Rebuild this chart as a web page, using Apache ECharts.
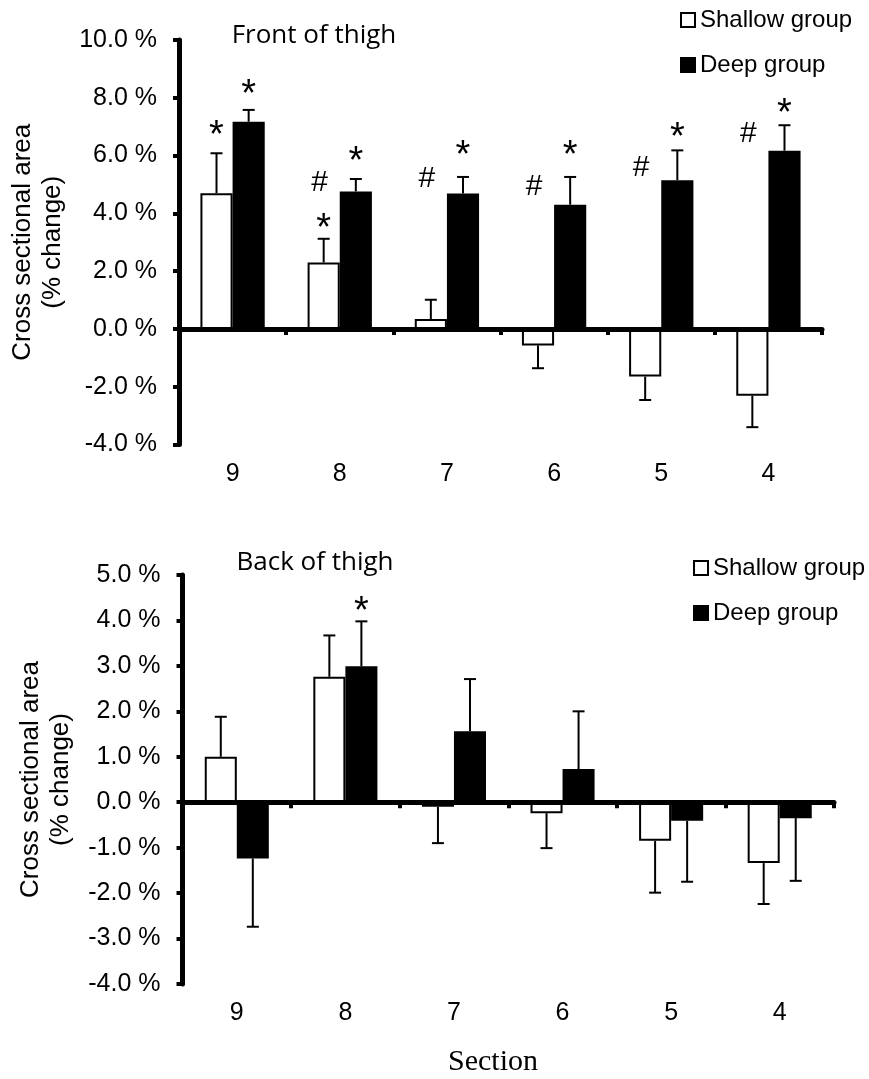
<!DOCTYPE html>
<html>
<head>
<meta charset="utf-8">
<title>Cross sectional area change by section</title>
<script src="https://cdn.jsdelivr.net/npm/echarts@6/dist/echarts.min.js"></script>
<style>
  html, body { margin: 0; padding: 0; background: #fff; }
  #chart { width: 869px; height: 1079px; }
</style>
</head>
<body>
<div id="chart"></div>
<script>
// sections along the thigh
const sections = ['9', '8', '7', '6', '5', '4'];

// front of thigh, % change (mean and SE)
const frontShallow = [4.70, 2.30, 0.34, -0.57, -1.65, -2.31];
const frontShallowErr = [1.38, 0.82, 0.67, 0.79, 0.81, 1.09];
const frontDeep = [7.17, 4.76, 4.69, 4.30, 5.15, 6.17];
const frontDeepErr = [0.41, 0.43, 0.57, 0.96, 1.03, 0.88];

// back of thigh, % change (mean and SE)
const backShallow = [1.00, 2.76, -0.10, -0.24, -0.85, -1.34];
const backShallowErr = [0.88, 0.91, 0.80, 0.77, 1.14, 0.90];
const backDeep = [-1.24, 2.99, 1.56, 0.73, -0.41, -0.35];
const backDeepErr = [1.50, 0.99, 1.15, 1.27, 1.34, 1.38];

// significance marks: height (in %) where the mark sits, null = no mark
const frontShallowStar = [6.99, 3.77, null, null, null, null];
const frontShallowHash = [null, 5.05, 5.19, 4.91, 5.57, 6.74];
const frontDeepStar = [8.41, 6.09, 6.30, 6.30, 6.95, 7.75];
const backDeepStar = [null, 4.39, null, null, null, null];

const frontGap = 0.40;
const backGap = 0.41;

const FONT = '"Liberation Sans", Arial, sans-serif';

function errData(vals, errs) {
  return vals.map((v, i) => [i, v, v + (v < 0 ? -errs[i] : errs[i])]);
}

function markData(arr) {
  const out = [];
  arr.forEach((v, i) => { if (v != null) out.push([i, v]); });
  return out;
}

// side: -1 left bar (shallow), +1 right bar (deep)
function errorBars(side, gap) {
  return function (params, api) {
    const band = api.size([1, 0])[0];
    const w = band * (1 - gap) / 2;
    const p0 = api.coord([api.value(0), api.value(1)]);
    const p1 = api.coord([api.value(0), api.value(2)]);
    const x = p0[0] + side * w / 2;
    const st = { stroke: '#000', lineWidth: 2 };
    return {
      type: 'group',
      children: [
        { type: 'line', shape: { x1: x, y1: p0[1], x2: x, y2: p1[1] }, style: st },
        { type: 'line', shape: { x1: x - 6, y1: p1[1], x2: x + 6, y2: p1[1] }, style: st }
      ]
    };
  };
}

function marks(side, gap, text, dx, dy, size) {
  return function (params, api) {
    const band = api.size([1, 0])[0];
    const w = band * (1 - gap) / 2;
    const p = api.coord([api.value(0), api.value(1)]);
    return {
      type: 'text',
      x: p[0] + side * w / 2 + dx,
      y: p[1] + dy,
      style: {
        text: text, fontSize: size, fontFamily: FONT, fill: '#000',
        align: 'center', verticalAlign: 'middle'
      }
    };
  };
}

function zeroAxis(grid) {
  return {
    type: 'category', gridIndex: grid, data: sections, position: 'bottom', z: 3,
    axisLine: { onZero: true, lineStyle: { color: '#000', width: 5 } },
    axisTick: { show: true, length: 6, lineStyle: { color: '#000', width: 4 } },
    axisLabel: { show: false }
  };
}

function labelAxis(grid) {
  return {
    type: 'category', gridIndex: grid, data: sections, position: 'bottom',
    axisLine: { show: false, onZero: false },
    axisTick: { show: false },
    axisLabel: { fontSize: 25, fontFamily: FONT, color: '#000', margin: 17 }
  };
}

function valueAxis(grid, min, max, interval, gap) {
  return {
    type: 'value', gridIndex: grid, min: min, max: max, interval: interval,
    name: 'Cross sectional area\n(% change)',
    nameLocation: 'middle', nameGap: gap,
    nameTextStyle: { fontSize: 26, lineHeight: 30, fontFamily: FONT, color: '#000' },
    axisLine: { show: true, lineStyle: { color: '#000', width: 5 } },
    axisTick: { show: true, length: 6, lineStyle: { color: '#000', width: 4 } },
    axisLabel: {
      fontSize: 25, fontFamily: FONT, color: '#000', margin: 22,
      formatter: v => v.toFixed(1) + ' %'
    },
    splitLine: { show: false }
  };
}

function barSeries(name, data, xi, yi, fill, gap) {
  return {
    name: name, type: 'bar', xAxisIndex: xi, yAxisIndex: yi, data: data,
    barGap: '0%', barCategoryGap: (gap * 100) + '%',
    itemStyle: { color: fill, borderColor: '#000', borderWidth: 2 }
  };
}

function customSeries(xi, yi, data, render, dims) {
  return {
    type: 'custom', xAxisIndex: xi, yAxisIndex: yi, data: data,
    renderItem: render, silent: true, z: 4,
    encode: dims === 3 ? { x: 0, y: [1, 2] } : { x: 0, y: 1 }
  };
}

const legendBase = {
  data: ['Shallow group', 'Deep group'],
  orient: 'vertical', icon: 'rect', itemWidth: 14, itemHeight: 14,
  itemGap: 21, padding: 0, selectedMode: false,
  textStyle: { fontSize: 24, fontFamily: FONT, color: '#000' }
};

const chart = echarts.init(document.getElementById('chart'));

chart.setOption({
  animation: false,
  backgroundColor: '#fff',
  grid: [
    { left: 179, right: 47, top: 40, bottom: 634.5, outerBoundsMode: 'none', containLabel: false },
    { left: 182.5, right: 35, top: 575, bottom: 95, outerBoundsMode: 'none', containLabel: false }
  ],
  legend: [
    Object.assign({ left: 680, top: 8 }, legendBase),
    Object.assign({ left: 693, top: 556 }, legendBase)
  ],
  xAxis: [zeroAxis(0), labelAxis(0), zeroAxis(1), labelAxis(1)],
  yAxis: [valueAxis(0, -4, 10, 2, 111), valueAxis(1, -4, 5, 1, 107)],
  graphic: [
    { type: 'text', x: 314, y: 36, style: { text: 'Front of thigh', fontSize: 26, fontFamily: 'Open Sans', fill: '#000', align: 'center', verticalAlign: 'middle' } },
    { type: 'text', x: 315, y: 563, style: { text: 'Back of thigh', fontSize: 26, fontFamily: 'Open Sans', fill: '#000', align: 'center', verticalAlign: 'middle' } },
    { type: 'text', x: 493, y: 1062, style: { text: 'Section', fontSize: 30, fontFamily: 'Liberation Serif', fill: '#000', align: 'center', verticalAlign: 'middle' } }
  ],
  series: [
    barSeries('Shallow group', frontShallow, 0, 0, '#fff', frontGap),
    barSeries('Deep group', frontDeep, 0, 0, '#000', frontGap),
    customSeries(0, 0, errData(frontShallow, frontShallowErr), errorBars(-1, frontGap), 3),
    customSeries(0, 0, errData(frontDeep, frontDeepErr), errorBars(1, frontGap), 3),
    customSeries(0, 0, markData(frontShallowStar), marks(-1, frontGap, '*', 0, 10, 38), 2),
    customSeries(0, 0, markData(frontShallowHash), marks(-1, frontGap, '#', -4, 0, 30), 2),
    customSeries(0, 0, markData(frontDeepStar), marks(1, frontGap, '*', 0, 10, 38), 2),

    barSeries('Shallow group', backShallow, 2, 1, '#fff', backGap),
    barSeries('Deep group', backDeep, 2, 1, '#000', backGap),
    customSeries(2, 1, errData(backShallow, backShallowErr), errorBars(-1, backGap), 3),
    customSeries(2, 1, errData(backDeep, backDeepErr), errorBars(1, backGap), 3),
    customSeries(2, 1, markData(backDeepStar), marks(1, backGap, '*', 0, 10, 38), 2)
  ]
});
</script>
</body>
</html>
